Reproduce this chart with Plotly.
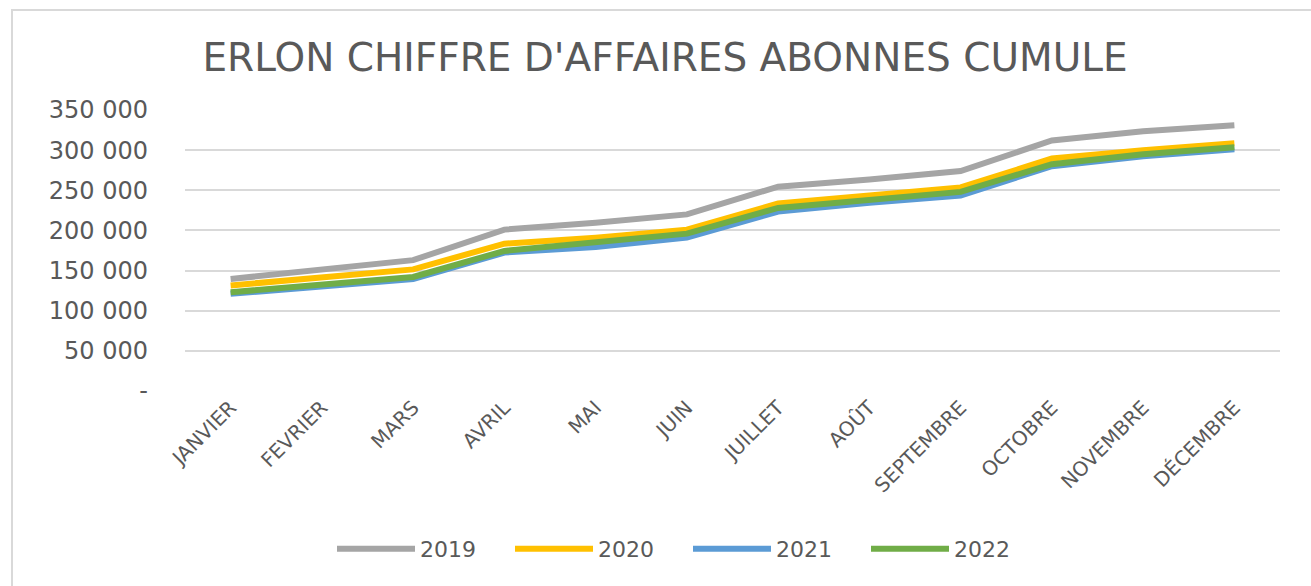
import plotly.graph_objects as go

months = ["JANVIER", "FEVRIER", "MARS", "AVRIL", "MAI", "JUIN", "JUILLET",
          "AOÛT", "SEPTEMBRE", "OCTOBRE", "NOVEMBRE", "DÉCEMBRE"]
ca_2019 = [139500, 152000, 163000, 201000, 209500, 220000, 254500, 263500, 274000, 312000, 323500, 331000]
ca_2020 = [131500, 142000, 151500, 183500, 191000, 201000, 233500, 243500, 253500, 289500, 300000, 308500]
ca_2021 = [121000, 130500, 139500, 172500, 179500, 191000, 223500, 234500, 243500, 280000, 292500, 301000]
ca_2022 = [123000, 132500, 142000, 174500, 184500, 196000, 228000, 238500, 248000, 282500, 295000, 303500]
series = [("2019", ca_2019, "#A5A5A5"), ("2020", ca_2020, "#FFC000"),
          ("2021", ca_2021, "#5B9BD5"), ("2022", ca_2022, "#70AD47")]
y_ticks = [0, 50000, 100000, 150000, 200000, 250000, 300000, 350000]
y_labels = ["-", "50 000", "100 000", "150 000", "200 000", "250 000", "300 000", "350 000"]

fig = go.Figure()
for name, vals, col in series:
    fig.add_trace(go.Scatter(x=months, y=vals, name=name, mode="lines",
                             line=dict(color=col, width=6)))

W, H = 1311, 586
L, R, T, B = 185, 31, 110, 195
pw, ph = W - L - R, H - T - B

fig.update_layout(
    width=W, height=H,
    margin=dict(l=L, r=R, t=T, b=B, autoexpand=False),
    paper_bgcolor="white", plot_bgcolor="white",
    title=dict(text="ERLON CHIFFRE D'AFFAIRES ABONNES CUMULE", x=665 / W, xanchor="center",
               y=1 - 57 / H, yanchor="middle",
               font=dict(family="DejaVu Sans", size=39, color="#595959")),
    xaxis=dict(type="category", range=[-0.5, 11.5], showgrid=False, zeroline=False,
               showline=False, tickangle=-45, ticks="", automargin=False,
               tickfont=dict(family="DejaVu Sans", size=20, color="#595959")),
    yaxis=dict(range=[0, 350000], tickvals=y_ticks, ticktext=y_labels,
               showgrid=True, gridcolor="#D9D9D9", gridwidth=2, zeroline=False,
               showline=False, ticks="", ticklen=0, automargin=False,
               ticklabelstandoff=36,
               tickfont=dict(family="DejaVu Sans", size=24, color="#595959")),
    legend=dict(orientation="h", x=(688 - L) / pw, xanchor="center",
                y=(H - B - 549) / ph, yanchor="middle",
                itemwidth=78, entrywidth=85, entrywidthmode="pixels",
                font=dict(family="DejaVu Sans", size=22, color="#595959")),
    showlegend=True,
    shapes=[dict(type="rect", xref="paper", yref="paper",
                 x0=(12 - L) / pw, x1=(W + 20 - L) / pw,
                 y0=(H - B - (H + 20)) / ph, y1=(H - B - 10) / ph,
                 line=dict(color="#D9D9D9", width=2), fillcolor="rgba(0,0,0,0)", layer="below")],
)
fig.write_html("out.html", config={"displayModeBar": False},
               post_script="document.body.style.margin='0';document.body.style.overflow='hidden';")
